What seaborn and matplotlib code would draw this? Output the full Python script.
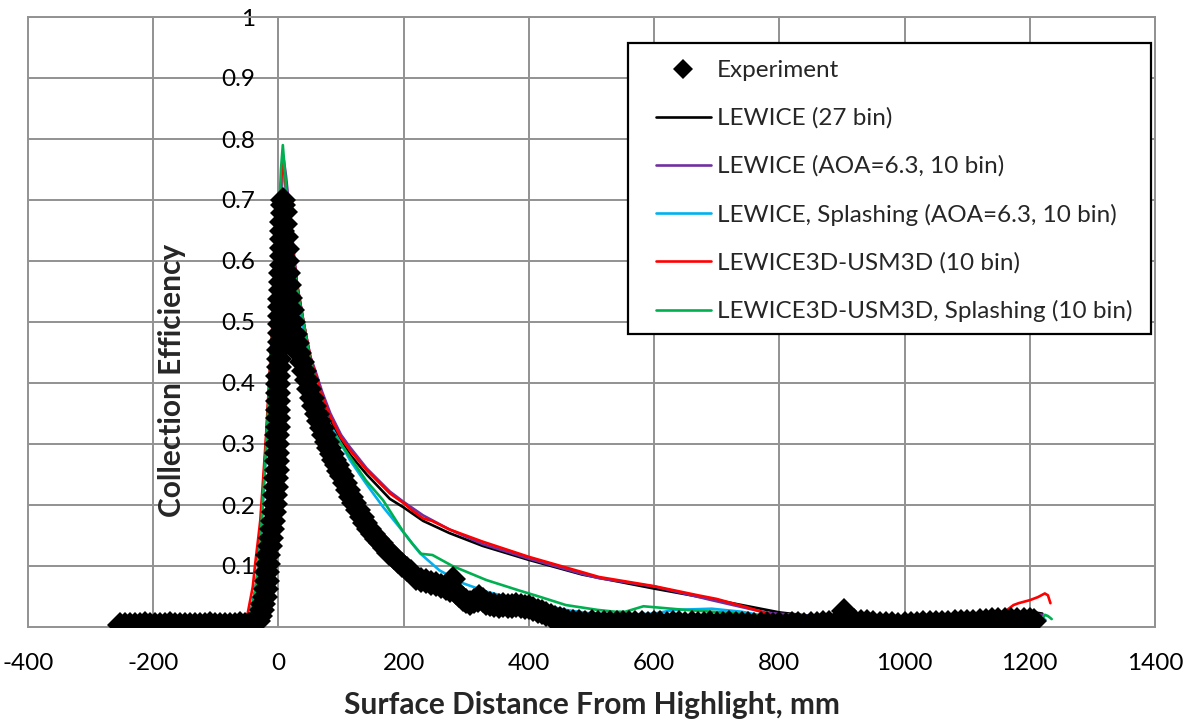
import numpy as np
import pandas as pd
import matplotlib
matplotlib.use("Agg")
import matplotlib.pyplot as plt
import seaborn as sns
from matplotlib.patches import Rectangle
from matplotlib.lines import Line2D

# ---------------- data ----------------
exp_x = [-253, -245, -237, -229, -221, -213, -205, -197, -189, -181, -173, -165, -157, -149,
         -141, -133, -125, -117, -109, -101, -93, -85, -77, -69, -61, -53, -47, -42, -37,
         -33, -30, -27, -24, -22, -20, -19, -18, -17, -16, -14, -12, -10, -9, -7, -6, -5, -4,
         -4, -3, -3, -2, -2, -2, -1, -1, -1, 0, 0, 0, 0, 1, 1, 1, 2, 2, 2, 3, 3, 3, 4, 4, 4,
         5, 5, 5, 6, 6, 6, 7, 7, 8,
         10, 11, 12, 13, 14, 15, 17, 19, 21, 24, 27, 30, 33, 37, 41, 45, 49, 53, 57, 61, 65,
         69, 73, 77, 81, 85, 89, 93, 97, 101, 106, 111, 116, 121, 127, 133, 139, 145, 151, 157,
         163, 170, 177, 184, 191, 198, 205, 212, 220, 228, 236, 244, 252, 260, 268, 274, 278,
         283, 288, 294, 300, 306, 312, 318, 321, 326, 332, 338, 345, 352, 359, 366, 373, 380,
         387, 394, 400, 407, 414, 421, 428, 435, 442, 449, 456, 463, 470,
         480, 490, 500, 510, 520, 530, 540, 550, 560, 570, 580, 590, 600, 610, 620, 630, 640,
         650, 660, 670, 680, 690, 700, 710, 720, 730, 740, 750, 760, 770, 780, 790, 800, 810,
         820, 830, 840, 850, 860, 870, 880, 890, 903, 910, 920, 930, 940, 950, 960, 970, 980,
         990, 1000, 1010, 1020, 1030, 1040, 1050, 1060, 1070, 1080, 1090, 1100, 1110, 1120,
         1130, 1140, 1150, 1160, 1170, 1180, 1190, 1200, 1206]
exp_y = [0.003, 0.004, 0.003, 0.003, 0.004, 0.005, 0.004, 0.003, 0.004, 0.004, 0.005, 0.004,
         0.003, 0.003, 0.004, 0.004, 0.003, 0.004, 0.005, 0.004, 0.003, 0.003, 0.004, 0.004,
         0.005, 0.004, 0.004, 0.005, 0.006,
         0.010, 0.018, 0.028, 0.038, 0.050, 0.063, 0.076, 0.090, 0.104, 0.118, 0.132, 0.146,
         0.160, 0.174, 0.188, 0.202, 0.216, 0.230, 0.244, 0.258, 0.272, 0.286, 0.300, 0.314,
         0.328, 0.342, 0.356, 0.370, 0.384, 0.398, 0.412, 0.426, 0.440, 0.454, 0.468, 0.482,
         0.496, 0.510, 0.524, 0.538, 0.552, 0.566, 0.580, 0.594, 0.608, 0.622, 0.636, 0.650,
         0.664, 0.678, 0.692, 0.700,
         0.68, 0.66, 0.64, 0.62, 0.60, 0.58, 0.56, 0.54, 0.52, 0.50, 0.48, 0.465, 0.45, 0.435,
         0.42, 0.405, 0.39, 0.375, 0.362, 0.35, 0.338, 0.326, 0.315, 0.304, 0.294, 0.284,
         0.274, 0.265, 0.256, 0.247, 0.236, 0.224, 0.213, 0.203, 0.192, 0.181, 0.171, 0.161,
         0.152, 0.144, 0.137, 0.129, 0.121, 0.114, 0.108, 0.101, 0.095, 0.090, 0.080, 0.077,
         0.075, 0.072, 0.070, 0.068, 0.064, 0.060, 0.078, 0.058, 0.052, 0.046, 0.043, 0.040,
         0.042, 0.045, 0.050, 0.044, 0.040, 0.037, 0.036, 0.035, 0.036, 0.034, 0.035, 0.036,
         0.034, 0.033, 0.032, 0.030, 0.027, 0.024, 0.021, 0.018, 0.015, 0.013, 0.011, 0.009,
         0.008,
         0.008, 0.007, 0.008, 0.007, 0.006, 0.007, 0.006, 0.006, 0.007, 0.006, 0.006, 0.005,
         0.006, 0.006, 0.005, 0.006, 0.006, 0.005, 0.006, 0.005, 0.005, 0.006, 0.005, 0.005,
         0.006, 0.005, 0.005, 0.005, 0.004, 0.005, 0.005, 0.004, 0.005, 0.004, 0.005, 0.005,
         0.004, 0.005, 0.005, 0.006, 0.006, 0.007, 0.026, 0.008, 0.010, 0.009, 0.008, 0.006,
         0.005, 0.005, 0.005, 0.004, 0.005, 0.005, 0.005, 0.006, 0.006, 0.006, 0.007, 0.007,
         0.008, 0.008, 0.009, 0.009, 0.010, 0.010, 0.011, 0.011, 0.012, 0.011, 0.012, 0.012,
         0.011, 0.010]

lew27_x = [-250, -60, -50, -44, -37, -32, -28, -20, -10, 0, 5, 8, 12, 18, 24, 30, 40, 50, 60,
           70, 83, 100, 114, 141, 178, 200, 231, 273, 326, 400, 485, 600, 670, 720, 760, 800,
           850, 900, 950, 1000, 1050, 1100, 1150, 1200, 1220]
lew27_y = [0.0, 0.0, 0.008, 0.025, 0.06, 0.10, 0.16, 0.30, 0.48, 0.64, 0.73, 0.76, 0.72, 0.66,
           0.61, 0.56, 0.50, 0.445, 0.41, 0.375, 0.34, 0.305, 0.283, 0.25, 0.21, 0.196, 0.174,
           0.154, 0.133, 0.11, 0.086, 0.063, 0.05, 0.04, 0.032, 0.024, 0.018, 0.014, 0.012,
           0.011, 0.012, 0.015, 0.022, 0.025, 0.022]

aoa_x = [-250, -60, -50, -44, -37, -32, -28, -20, -10, 0, 5, 8, 12, 18, 24, 30, 40, 51, 59,
         70, 83, 100, 114, 141, 178, 200, 231, 273, 326, 400, 485, 512, 602, 692, 781, 885,
         950, 1000, 1050, 1100, 1150, 1200, 1220]
aoa_y = [0.0, 0.0, 0.006, 0.02, 0.055, 0.095, 0.15, 0.29, 0.47, 0.64, 0.74, 0.77, 0.74, 0.68,
         0.62, 0.56, 0.50, 0.443, 0.42, 0.385, 0.35, 0.315, 0.295, 0.26, 0.222, 0.205, 0.183,
         0.16, 0.136, 0.112, 0.087, 0.08, 0.066, 0.044, 0.023, 0.016, 0.012, 0.011, 0.012,
         0.015, 0.02, 0.022, 0.02]

spl_x = [-250, -60, -50, -44, -37, -32, -28, -20, -10, 0, 5, 7, 12, 18, 24, 30, 40, 50, 60,
         70, 83, 100, 114, 140, 167, 200, 226, 257, 294, 332, 374, 459, 500, 550, 600, 632,
         692, 740, 778, 820, 900, 1000, 1100, 1200, 1225]
spl_y = [0.0, 0.0, 0.007, 0.022, 0.058, 0.098, 0.155, 0.29, 0.47, 0.63, 0.73, 0.75, 0.71,
         0.65, 0.60, 0.55, 0.49, 0.44, 0.40, 0.365, 0.33, 0.30, 0.274, 0.235, 0.197, 0.155,
         0.121, 0.093, 0.072, 0.058, 0.047, 0.028, 0.022, 0.02, 0.022, 0.028, 0.03, 0.025,
         0.018, 0.012, 0.01, 0.01, 0.012, 0.015, 0.012]

l3d_x = [-250, -60, -49, -41, -37, -32, -29, -20, -10, 0, 5, 8, 12, 18, 24, 30, 40, 51, 60,
         70, 83, 100, 114, 141, 178, 200, 215, 231, 245, 273, 326, 400, 485, 512, 600, 670,
         700, 746, 781, 800, 850, 900, 1000, 1100, 1147, 1160, 1174, 1182, 1200, 1213, 1224,
         1229, 1233]
l3d_y = [0.0, 0.0, 0.023, 0.066, 0.105, 0.148, 0.175, 0.31, 0.49, 0.65, 0.74, 0.76, 0.72,
         0.66, 0.61, 0.56, 0.50, 0.443, 0.41, 0.378, 0.344, 0.31, 0.29, 0.257, 0.219, 0.203,
         0.19, 0.178, 0.174, 0.16, 0.14, 0.115, 0.09, 0.082, 0.067, 0.052, 0.046, 0.033,
         0.022, 0.016, 0.012, 0.01, 0.01, 0.012, 0.023, 0.025, 0.036, 0.039, 0.044, 0.049,
         0.055, 0.052, 0.039]

l3ds_x = [-250, -60, -50, -44, -37, -32, -28, -20, -10, 0, 4, 7, 10, 15, 20, 26, 32, 40, 50,
          60, 70, 83, 100, 114, 140, 167, 200, 215, 228, 246, 278, 332, 384, 416, 459, 510,
          538, 554, 583, 650, 723, 781, 850, 950, 1050, 1150, 1200, 1218, 1224, 1229, 1235]
l3ds_y = [0.0, 0.0, 0.007, 0.022, 0.058, 0.098, 0.155, 0.29, 0.48, 0.65, 0.75, 0.79, 0.75,
          0.69, 0.63, 0.58, 0.54, 0.50, 0.44, 0.40, 0.365, 0.323, 0.30, 0.279, 0.24, 0.208,
          0.155, 0.135, 0.12, 0.118, 0.10, 0.077, 0.06, 0.05, 0.036, 0.028, 0.025, 0.025,
          0.034, 0.028, 0.023, 0.018, 0.012, 0.01, 0.01, 0.01, 0.01, 0.008, 0.02, 0.018, 0.013]

x_ticks = [-400, -200, 0, 200, 400, 600, 800, 1000, 1200, 1400]
y_ticks = [0.1, 0.2, 0.3, 0.4, 0.5, 0.6, 0.7, 0.8, 0.9, 1.0]
y_tick_labels = ["0.1", "0.2", "0.3", "0.4", "0.5", "0.6", "0.7", "0.8", "0.9", "1"]

series = [
    ("LEWICE (27 bin)", lew27_x, lew27_y, "#000000"),
    ("LEWICE (AOA=6.3, 10 bin)", aoa_x, aoa_y, "#7030A0"),
    ("LEWICE, Splashing (AOA=6.3, 10 bin)", spl_x, spl_y, "#00B0F0"),
    ("LEWICE3D-USM3D (10 bin)", l3d_x, l3d_y, "#FF0000"),
    ("LEWICE3D-USM3D, Splashing (10 bin)", l3ds_x, l3ds_y, "#00B050"),
]

# ---------------- style ----------------
sns.set_theme(style="white")
plt.rcParams["font.family"] = ["Lato", "DejaVu Sans"]
FS = 17.5
LFS = 21.5
GRID = "#929292"

W, H = 1189, 721
fig = plt.figure(figsize=(W / 100, H / 100), dpi=100)
L, R, T, B = 28, 1155, 17, 627
ax = fig.add_axes([L / W, 1 - B / H, (R - L) / W, (B - T) / H])

for name, xs, ys, col in series:
    df = pd.DataFrame({"x": xs, "y": ys})
    sns.lineplot(data=df, x="x", y="y", ax=ax, color=col, linewidth=1.9,
                 sort=False, estimator=None, zorder=3)

exp_df = pd.DataFrame({"x": exp_x, "y": exp_y})
sns.lineplot(data=exp_df, x="x", y="y", ax=ax, color="black", linestyle="none",
             marker="D", markersize=13.5, markeredgewidth=0, sort=False,
             estimator=None, zorder=4)

ax.set_xlim(-400, 1400)
ax.set_ylim(0, 1)
ax.set_xticks(x_ticks)
ax.set_xticklabels([str(v) for v in x_ticks])
ax.set_yticks(y_ticks)
ax.set_yticklabels(y_tick_labels)
ax.tick_params(axis="both", length=0, labelsize=FS, colors="black")
ax.tick_params(axis="x", pad=18.5)
ax.tick_params(axis="y", pad=17)

ax.grid(True, color=GRID, linewidth=1.4)
ax.set_axisbelow(True)
for ln in ax.get_xgridlines() + ax.get_ygridlines():
    ln.set_clip_on(False)

for s in ["top", "right", "bottom"]:
    ax.spines[s].set_color(GRID)
    ax.spines[s].set_linewidth(1.4)
ax.spines["left"].set_position(("data", 0))
ax.spines["left"].set_color(GRID)
ax.spines["left"].set_linewidth(1.4)

ax.set_xlabel("Surface Distance From Highlight, mm", fontsize=LFS, fontweight="bold")
ax.set_ylabel("Collection Efficiency", fontsize=LFS, fontweight="bold")
ax.xaxis.label.set_verticalalignment("center")
ax.xaxis.set_label_coords(0.5, (B - 705) / (B - T))
ax.yaxis.label.set_verticalalignment("center")
ax.yaxis.set_label_coords((172 - L) / (R - L), (B - 380) / (B - T))

# ---------------- legend ----------------
handles = [Line2D([], [], color="black", linestyle="none", marker="D", markersize=10,
                  markeredgewidth=0)]
labels = ["Experiment"]
for name, xs, ys, col in series:
    handles.append(Line2D([], [], color=col, linewidth=1.9))
    labels.append(name)

box_l, box_t, box_r, box_b = 628, 43, 1151, 334
fig.patches.append(Rectangle((box_l / W, 1 - box_b / H), (box_r - box_l) / W,
                             (box_b - box_t) / H, transform=fig.transFigure,
                             facecolor="white", edgecolor="black", linewidth=1.6,
                             zorder=5))
leg = fig.legend(handles, labels, loc="upper left",
                 bbox_to_anchor=(656 / W, 1 - 60 / H), bbox_transform=fig.transFigure,
                 frameon=False, fontsize=FS, borderpad=0, borderaxespad=0,
                 handlelength=2.25, handletextpad=0.25, labelspacing=1.09)
leg.set_zorder(6)

fig.savefig("out.png", dpi=100)
